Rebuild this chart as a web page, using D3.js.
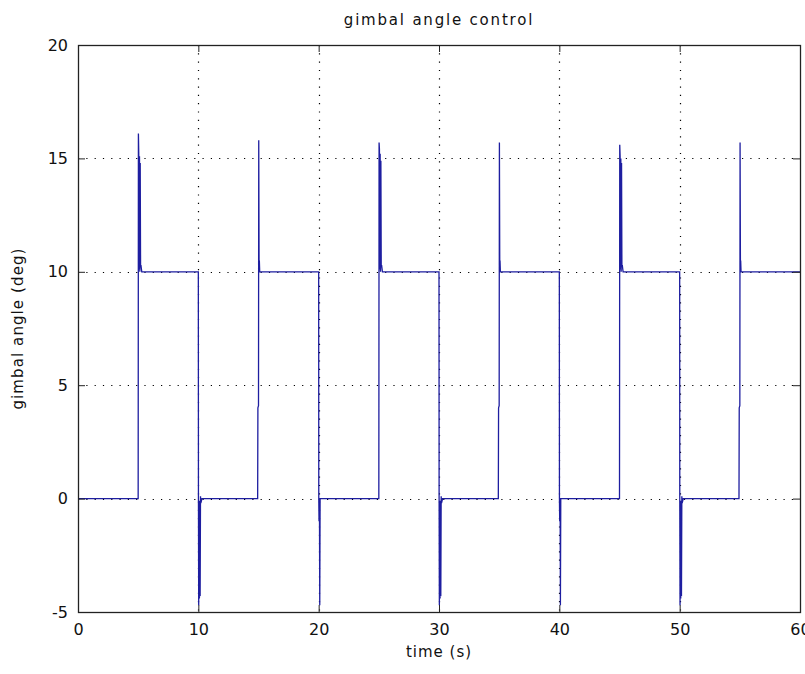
<!DOCTYPE html>
<html>
<head>
<meta charset="utf-8">
<script src="https://cdn.jsdelivr.net/npm/d3@7"></script>
<style>
  html, body { margin: 0; padding: 0; background: #fff; }
  svg { display: block; }
  text { font-family: "DejaVu Sans", "Liberation Sans", sans-serif; fill: #111; }
</style>
</head>
<body>
<svg id="chart" width="805" height="674"></svg>
<script>
// ---- data ----
const xTicks = [0, 10, 20, 30, 40, 50, 60];
const yTicks = [-5, 0, 5, 10, 15, 20];
const titleText = "gimbal angle control";
const xLabelText = "time (s)";
const yLabelText = "gimbal angle (deg)";

// time (s) and gimbal angle (deg) samples of the response
const time = [
  0, 5.0,
  5.02, 5.05, 5.08, 5.11, 5.14, 5.17, 5.2, 5.23, 5.3,
  10.0, 10.01, 10.03, 10.06, 10.09, 10.12, 10.15, 10.18, 10.21, 10.3,
  14.93, 14.95, 15.0, 15.02, 15.05, 15.07, 15.1, 15.2,
  20.0, 20.01, 20.03, 20.05, 20.07, 20.09, 20.12, 20.2,
  25.0,
  25.02, 25.05, 25.08, 25.11, 25.14, 25.17, 25.2, 25.23, 25.3,
  30.0, 30.01, 30.03, 30.06, 30.09, 30.12, 30.15, 30.18, 30.21, 30.3,
  34.93, 34.95, 35.0, 35.02, 35.05, 35.07, 35.1, 35.2,
  40.0, 40.01, 40.03, 40.05, 40.07, 40.09, 40.12, 40.2,
  45.0,
  45.02, 45.05, 45.08, 45.11, 45.14, 45.17, 45.2, 45.23, 45.3,
  50.0, 50.01, 50.03, 50.06, 50.09, 50.12, 50.15, 50.18, 50.21, 50.3,
  54.93, 54.95, 55.0, 55.02, 55.05, 55.07, 55.1, 55.2,
  60
];
const angle = [
  0, 0,
  16.1, 15.2, 10.1, 15.1, 10.0, 14.8, 10.2, 10.3, 10,
  10, 0, -4.7, -0.2, -4.4, -0.1, -4.3, 0.1, -0.2, 0,
  0, 4.0, 4.1, 15.8, 10.0, 10.5, 10.0, 10,
  10, 0, -1.0, 0, -1.0, -4.7, 0, 0,
  0,
  15.7, 15.4, 10.1, 15.2, 10.0, 14.9, 10.2, 10.3, 10,
  10, 0, -4.7, -0.2, -4.4, -0.1, -4.3, 0.1, -0.2, 0,
  0, 4.0, 4.1, 15.7, 10.0, 10.5, 10.0, 10,
  10, 0, -1.0, 0, -1.0, -4.7, 0, 0,
  0,
  15.6, 15.1, 10.1, 15.0, 10.0, 14.8, 10.2, 10.3, 10,
  10, 0, -4.7, -0.2, -4.4, -0.1, -4.3, 0.1, -0.2, 0,
  0, 4.0, 4.1, 15.7, 10.0, 10.5, 10.0, 10,
  10
];

// ---- layout ----
const L = 78, R = 800, T = 45, B = 612;
const svg = d3.select("#chart");

const x = d3.scaleLinear().domain([0, 60]).range([L, R]);
const y = d3.scaleLinear().domain([-5, 20]).range([B, T]);

// grid (dotted), interior ticks only
const grid = svg.append("g").attr("stroke", "#000").attr("stroke-width", 1.2)
  .attr("stroke-dasharray", "1.2,7.1");
grid.selectAll("line.vx").data(xTicks.slice(1, -1)).join("line")
  .attr("x1", d => Math.round(x(d)) + 0.5).attr("x2", d => Math.round(x(d)) + 0.5)
  .attr("y1", T).attr("y2", B);
grid.selectAll("line.hy").data(yTicks.slice(1, -1)).join("line")
  .attr("y1", d => Math.round(y(d)) + 0.5).attr("y2", d => Math.round(y(d)) + 0.5)
  .attr("x1", L).attr("x2", R);

// data line
const pts = time.map((t, i) => [t, angle[i]]);
const line = d3.line().x(d => x(d[0])).y(d => y(d[1]));
svg.append("path").datum(pts)
  .attr("d", line)
  .attr("fill", "none")
  .attr("stroke", "#1e1ea0")
  .attr("stroke-width", 1.3)
  .attr("stroke-linejoin", "miter");

// axes (ticks pointing inward)
const tk = 7;
const fontSize = 16;
const fmt = d => String(d);
const axB = svg.append("g").attr("transform", `translate(0,${B})`)
  .call(d3.axisBottom(x).tickValues(xTicks).tickSize(-tk).tickPadding(12).tickFormat(fmt));
const axT = svg.append("g").attr("transform", `translate(0,${T})`)
  .call(d3.axisTop(x).tickValues(xTicks).tickSize(-tk).tickFormat(""));
const axLf = svg.append("g").attr("transform", `translate(${L},0)`)
  .call(d3.axisLeft(y).tickValues(yTicks).tickSize(-tk).tickPadding(10).tickFormat(fmt));
const axRt = svg.append("g").attr("transform", `translate(${R},0)`)
  .call(d3.axisRight(y).tickValues(yTicks).tickSize(-tk).tickFormat(""));
[axB, axT, axLf, axRt].forEach(a => {
  a.select(".domain").remove();
  a.selectAll("line").attr("stroke", "#222");
  a.selectAll("text").attr("font-size", fontSize)
    .style("font-family", "'DejaVu Sans', sans-serif").attr("fill", "#111");
});

// box
svg.append("rect").attr("x", L + 0.5).attr("y", T + 0.5)
  .attr("width", R - L).attr("height", B - T)
  .attr("fill", "none").attr("stroke", "#222").attr("stroke-width", 1.3);

// labels
svg.append("text").attr("x", (L + R) / 2).attr("y", 25)
  .attr("text-anchor", "middle").attr("font-size", 15)
  .attr("letter-spacing", 1.8)
  .text(titleText);
svg.append("text").attr("x", (L + R) / 2).attr("y", 657)
  .attr("text-anchor", "middle").attr("font-size", 15)
  .attr("letter-spacing", 1)
  .text(xLabelText);
svg.append("text")
  .attr("transform", `translate(23,${(T + B) / 2}) rotate(-90)`)
  .attr("text-anchor", "middle").attr("font-size", 15)
  .attr("letter-spacing", 1.1)
  .text(yLabelText);
</script>
</body>
</html>
